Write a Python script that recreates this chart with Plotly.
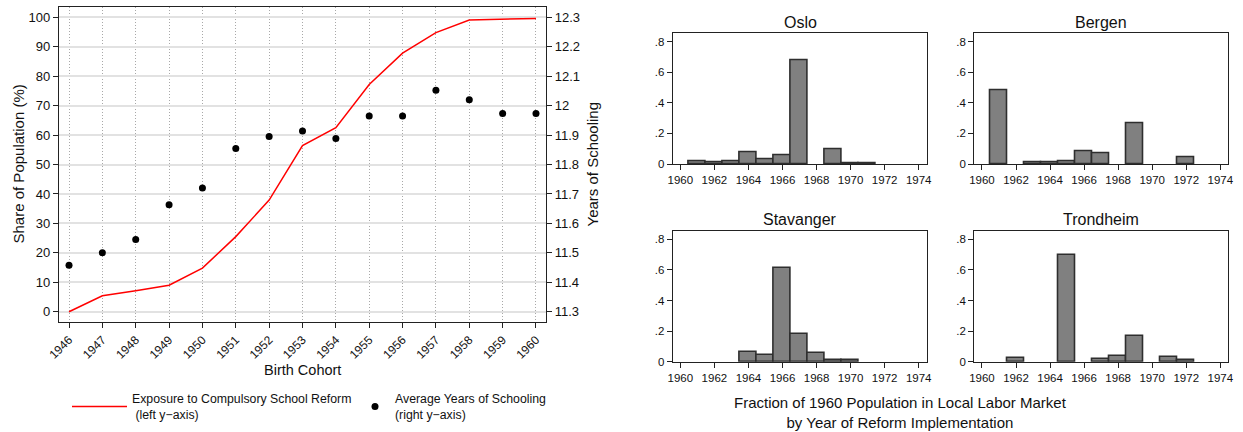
import plotly.graph_objects as go

# ---------------- data ----------------
cohorts = list(range(1946, 1961))
exposure_pct = [0, 5.4, 7.1, 9.0, 14.8, 25.5, 37.9, 56.4, 62.5, 77.2, 87.8, 94.8, 99.1, 99.4, 99.6]
avg_schooling = [11.458, 11.50, 11.545, 11.663, 11.720, 11.854, 11.895, 11.914, 11.888,
                 11.965, 11.965, 12.052, 12.020, 11.973, 11.973]

reform_years = list(range(1960, 1975))
oslo = [0, 0.017, 0.009, 0.015, 0.074, 0.028, 0.054, 0.676, 0, 0.094, 0.007, 0.002, 0, 0, 0]
bergen = [0, 0.48, 0, 0.011, 0.013, 0.020, 0.085, 0.068, 0, 0.268, 0, 0, 0.041, 0, 0]
stavanger = [0, 0, 0, 0, 0.063, 0.044, 0.615, 0.179, 0.054, 0.013, 0.013, 0, 0, 0, 0]
trondheim = [0, 0, 0.022, 0, 0, 0.70, 0, 0.015, 0.039, 0.166, 0, 0.033, 0.009, 0, 0]

city_names = ["Oslo", "Bergen", "Stavanger", "Trondheim"]
city_values = [oslo, bergen, stavanger, trondheim]

FONT = "Liberation Sans, Arial, Helvetica, sans-serif"
W, H = 1243, 432

def px_x(x):
    return x / W

def px_y(y):
    return (H - y) / H

fig = go.Figure()

# ---------------- left chart ----------------
fig.add_trace(go.Scatter(
    x=cohorts, y=exposure_pct, mode="lines",
    line=dict(color="#ff0000", width=1.5),
    name="Exposure to Compulsory School Reform<br> (left y\u2212axis)",
    xaxis="x", yaxis="y", legend="legend",
))
fig.add_trace(go.Scatter(
    x=cohorts, y=avg_schooling, mode="markers",
    marker=dict(color="black", size=7),
    name="Average Years of Schooling<br>(right y\u2212axis)",
    xaxis="x", yaxis="y2", legend="legend2",
))

# ---------------- histograms ----------------
panel_axes = [("x2", "y3"), ("x3", "y4"), ("x4", "y5"), ("x5", "y6")]
for (xa, ya), vals in zip(panel_axes, city_values):
    xs = [yr for yr, v in zip(reform_years, vals) if v > 0]
    ys = [v for v in vals if v > 0]
    fig.add_trace(go.Bar(
        x=xs, y=ys, width=1,
        marker=dict(color="#808080", line=dict(color="#2e2e2e", width=1.6)),
        xaxis=xa, yaxis=ya, showlegend=False,
    ))

axis_line = dict(showline=True, linecolor="#222222", linewidth=1.2,
                 ticks="outside", ticklen=5, tickcolor="#222222",
                 zeroline=False, automargin=False)

layout = dict(
    template="none",
    width=W, height=H,
    margin=dict(l=0, r=0, t=0, b=0, autoexpand=False),
    paper_bgcolor="white", plot_bgcolor="white",
    font=dict(family=FONT, size=13, color="#111111"),
    bargap=0,
    showlegend=True,
    xaxis=dict(domain=[px_x(59), px_x(546)], range=[1945.7, 1960.3],
               tickvals=cohorts, tickangle=-45, mirror=True,
               showgrid=True, gridcolor="#a8a8a8", griddash="1px,2px", gridwidth=1,
               tickfont=dict(size=12), anchor="y", **axis_line),
    yaxis=dict(domain=[px_y(322), px_y(7)], range=[-3.5, 103.5],
               tickvals=list(range(0, 101, 10)),
               showgrid=True, gridcolor="#e2e2e2", gridwidth=1.5,
               tickfont=dict(size=13), anchor="x", **axis_line),
    yaxis2=dict(overlaying="y", side="right", anchor="x",
                range=[11.265, 12.335],
                tickvals=[11.3, 11.4, 11.5, 11.6, 11.7, 11.8, 11.9, 12.0, 12.1, 12.2, 12.3],
                ticktext=["11.3", "11.4", "11.5", "11.6", "11.7", "11.8", "11.9", "12", "12.1", "12.2", "12.3"],
                showgrid=False, tickfont=dict(size=13), **axis_line),
    legend=dict(x=px_x(67), y=px_y(384), xanchor="left", yanchor="top",
                orientation="v", bgcolor="rgba(0,0,0,0)",
                font=dict(size=12.3), itemwidth=55),
    legend2=dict(x=px_x(355), y=px_y(384), xanchor="left", yanchor="top",
                 orientation="v", bgcolor="rgba(0,0,0,0)",
                 font=dict(size=12.3), itemwidth=30),
)

panel_x = [(672.7, 926.7), (974.3, 1228.3), (672.7, 926.7), (974.3, 1228.3)]
panel_y = [(33.3, 164), (33.3, 164), (231, 361.7), (231, 361.7)]
for i, ((xa, ya), (x0, x1), (y0, y1)) in enumerate(zip(panel_axes, panel_x, panel_y)):
    xkey = "xaxis" + xa[1:]
    ykey = "yaxis" + ya[1:]
    layout[xkey] = dict(domain=[px_x(x0), px_x(x1)], range=[1959.55, 1974.47],
                        tickvals=list(range(1960, 1975, 2)), mirror=True,
                        showgrid=False, anchor=ya, tickfont=dict(size=11.5), **axis_line)
    layout[ykey] = dict(domain=[px_y(y1), px_y(y0)], range=[0, 0.855],
                        tickvals=[0, 0.2, 0.4, 0.6, 0.8],
                        ticktext=["0", ".2", ".4", ".6", ".8"], mirror=True,
                        showgrid=False, anchor=xa, tickfont=dict(size=11.5), **axis_line)

fig.update_layout(**layout)

# ---------------- titles / labels ----------------
ann = []
ann.append(dict(text="Share of Population (%)", x=px_x(18), y=px_y(164.5), textangle=-90,
                font=dict(size=15)))
ann.append(dict(text="Years of Schooling", x=px_x(592), y=px_y(164.5), textangle=-90,
                font=dict(size=15)))
ann.append(dict(text="Birth Cohort", x=px_x(302), y=px_y(370), font=dict(size=14.5)))
title_pos = [(800, 23), (1101, 23), (800, 219), (1101, 219)]
for name, (tx, ty) in zip(city_names, title_pos):
    ann.append(dict(text=name, x=px_x(tx), y=px_y(ty), font=dict(size=16)))
ann.append(dict(text="Fraction of 1960 Population in Local Labor Market<br>by Year of Reform Implementation",
                x=px_x(900), y=px_y(412), font=dict(size=15)))
for a in ann:
    a.update(xref="paper", yref="paper", showarrow=False, xanchor="center", yanchor="middle")
fig.update_layout(annotations=ann)

fig.write_html("out.html")
